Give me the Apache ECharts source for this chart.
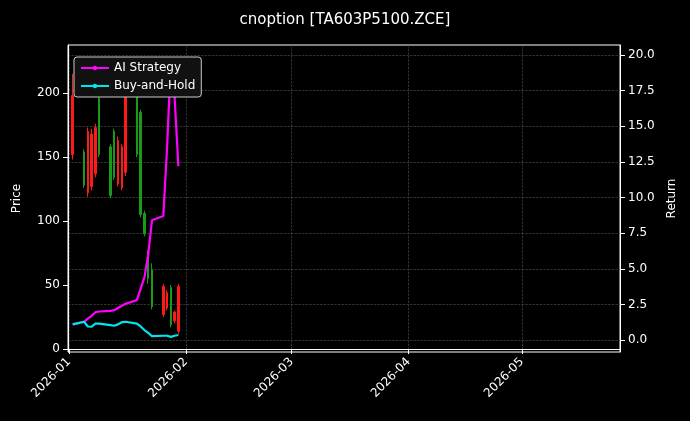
<!DOCTYPE html><html><head><meta charset="utf-8"><script src="https://cdn.jsdelivr.net/npm/echarts@6/dist/echarts.min.js"></script></head><body style="margin:0;background:#000"><div id="c" style="width:690px;height:421px"></div><script>
const dates=['2026-01-02','2026-01-05','2026-01-06','2026-01-07','2026-01-08','2026-01-09','2026-01-12','2026-01-13','2026-01-14','2026-01-15','2026-01-16','2026-01-19','2026-01-20','2026-01-21','2026-01-22','2026-01-23','2026-01-26','2026-01-27','2026-01-28','2026-01-29','2026-01-30'];
// [open, close, low, high]
const candles=[[152,198,148,215],[154,128,126,156],[122,170,119,173],[127,168,124,172],[137,173,134,176],[196,152,150,199],[158,120,118,160],[170,134,132,172],[129,163,127,166],[126,158,124,160],[138,210,135,215],[208,152,150,210],[185,105,103,187],[106,90,88,108],[75,55,51,77],[62,33,31,67],[27,49,25,51],[32,44,30,46],[48,19,17,50],[22,29,20,30],[14,49,12,51]];
const aiReturn=[1.1,1.28,1.5,1.7,1.95,2.0,2.05,2.1,2.25,2.4,2.55,2.8,3.6,4.4,6.0,8.4,8.7,13.5,19.6,17,12.2];
const bhReturn=[1.1,1.28,0.95,0.93,1.15,1.15,1.05,1.0,1.1,1.25,1.28,1.15,0.95,0.7,0.5,0.28,0.3,0.3,0.22,0.3,0.35];
const priceTicks=[0,50,100,150,200];
const returnTicks=[0,2.5,5,7.5,10,12.5,15,17.5,20];
const monthTicks=['2026-01-01','2026-02-01','2026-03-01','2026-04-01','2026-05-01'];
const ts=d=>Date.UTC(+d.slice(0,4),+d.slice(5,7)-1,+d.slice(8,10));
const fmt=v=>{const d=new Date(v);return d.getUTCFullYear()+'-'+String(d.getUTCMonth()+1).padStart(2,'0');};
const ch=echarts.init(document.getElementById('c'));
const txt='#ffffff', F='DejaVu Sans';
const grid={type:'dashed',color:'#555',width:0.6};
ch.setOption({backgroundColor:'#000',animation:false,textStyle:{fontFamily:F},
title:{text:'cnoption [TA603P5100.ZCE]',left:'center',top:8,textStyle:{color:txt,fontSize:15,fontWeight:'normal',fontFamily:F}},
legend:{left:74,top:57,orient:'vertical',itemGap:6,itemWidth:28,itemHeight:3,backgroundColor:'#111',borderColor:'#ccc',borderWidth:1,borderRadius:3,padding:[5,6],textStyle:{color:txt,fontSize:12},data:['AI Strategy','Buy-and-Hold']},
grid:{left:68,right:70,top:45,bottom:69,show:true,borderColor:'#fff',borderWidth:1},
xAxis:{type:'value',min:ts('2025-12-31')+0.75*864e5,max:ts('2026-05-27'),
 axisLine:{lineStyle:{color:'#fff'}},axisTick:{customValues:monthTicks.map(ts),lineStyle:{color:'#fff'}},
 axisLabel:{customValues:monthTicks.map(ts),rotate:45,color:txt,fontSize:12,formatter:fmt},
 splitLine:{show:true,lineStyle:grid}},
yAxis:[{type:'value',name:'Price',nameLocation:'middle',nameGap:45,nameTextStyle:{color:txt,fontSize:12},min:-2.3,max:237.5,
 axisLine:{show:true,lineStyle:{color:'#fff'}},axisTick:{show:true,customValues:priceTicks},axisLabel:{customValues:priceTicks,color:txt,fontSize:12},splitLine:{show:false}},
 {type:'value',name:'Return',nameLocation:'middle',nameGap:45,nameTextStyle:{color:txt,fontSize:12},min:-0.84,max:20.7,position:'right',
 axisLine:{show:true,lineStyle:{color:'#fff'}},axisTick:{show:true,customValues:returnTicks},axisLabel:{customValues:returnTicks,color:txt,fontSize:12,formatter:v=>v.toFixed(1)},splitLine:{show:true,lineStyle:grid}}],
series:[{type:'candlestick',yAxisIndex:0,barWidth:2,data:dates.map((d,i)=>[ts(d),...candles[i]]),
 itemStyle:{color:'#ff1a1a',color0:'#1a9a1a',borderColor:'#ff1a1a',borderColor0:'#1a9a1a',borderWidth:1}},
 {name:'AI Strategy',type:'line',yAxisIndex:1,showSymbol:false,data:dates.map((d,i)=>[ts(d),aiReturn[i]]),lineStyle:{color:'#ff00ff',width:2.2},itemStyle:{color:'#ff00ff'}},
 {name:'Buy-and-Hold',type:'line',yAxisIndex:1,showSymbol:false,data:dates.map((d,i)=>[ts(d),bhReturn[i]]),lineStyle:{color:'#00e5ee',width:2.2},itemStyle:{color:'#00e5ee'}}]
});
</script></body></html>
